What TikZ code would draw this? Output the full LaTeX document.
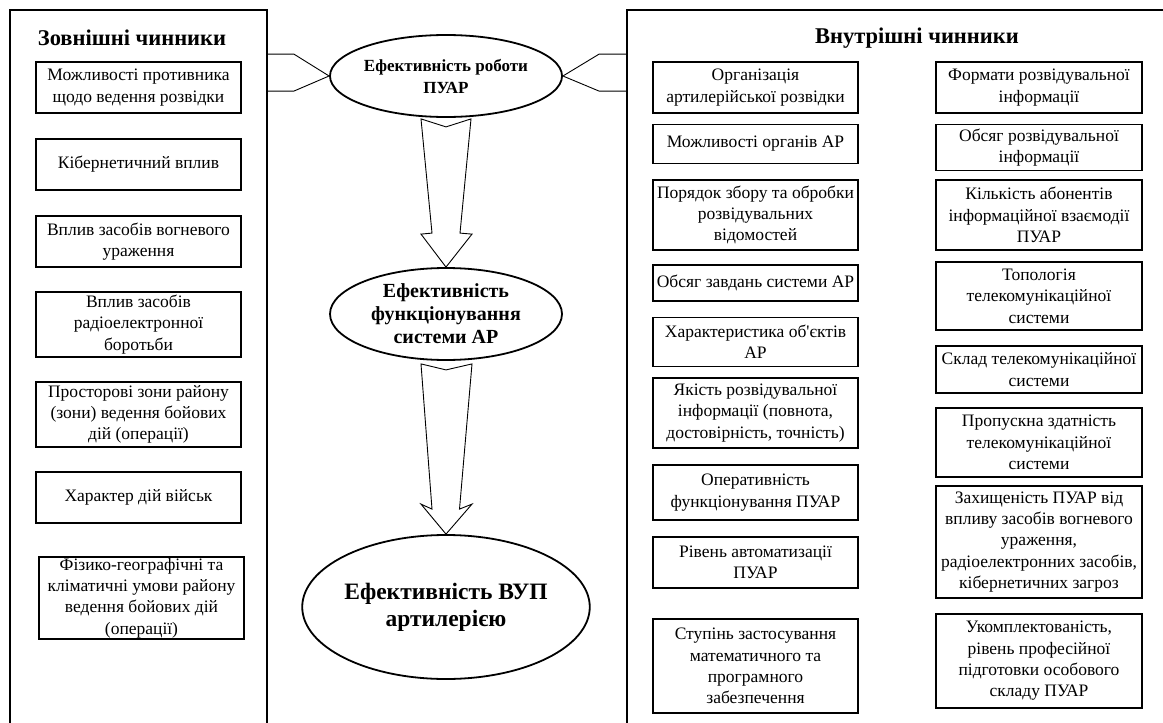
\documentclass[tikz,border=0pt]{standalone}
\usepackage{fontspec}
\setmainfont{Liberation Serif}
\newfontfamily\plainserif{Liberation Serif}
\usetikzlibrary{shapes.geometric,calc}
\tikzset{
  bigbox/.style={draw, line width=1.8pt, inner sep=0pt},
  fbox/.style={draw, line width=1.1pt, align=center, inner sep=0pt, font=\fontsize{17.5}{21.3}\selectfont},
  ell/.style={draw, ellipse, line width=1.8pt, inner sep=0pt, align=center},
  blockarrow/.style={draw, line width=0.9pt, fill=white, line join=miter},
  chev/.style={draw, line width=0.9pt},
  head/.style={font=\fontsize{22.5}{26}\selectfont\bfseries}
}
\begin{document}
\begin{tikzpicture}[x=1pt,y=-1pt]
\useasboundingbox (0,0) rectangle (1163,723);
\clip (0,0) rectangle (1163,723);
\fill[white] (0,0) rectangle (1163,723);

% big frames
\node[bigbox, minimum width=257, minimum height=760] (lbox) at (138.5,390) {};
\node[bigbox, minimum width=553, minimum height=760] (rbox) at (903.5,390) {};

\node[head] (lh) at (132,38) {Зовнішні чинники};
\node[head] (rh) at (917,38) {Внутрішні чинники};

% left column
\node[fbox, minimum width=205, minimum height=51] (l1) at (138.5,87.5) {Можливості противника\\щодо ведення розвідки};
\node[fbox, minimum width=205, minimum height=51] (l2) at (138.5,164.5) {Кібернетичний вплив};
\node[fbox, minimum width=205, minimum height=51] (l3) at (138.5,241.5) {Вплив засобів вогневого\\ураження};
\node[fbox, minimum width=205, minimum height=65] (l4) at (138.5,324.5) {Вплив засобів\\радіоелектронної\\боротьби};
\node[fbox, minimum width=205, minimum height=65] (l5) at (138.5,414.5) {Просторові зони району\\(зони) ведення бойових\\дій (операції)};
\node[fbox, minimum width=205, minimum height=51] (l6) at (138.5,497.5) {Характер дій військ};
\node[fbox, minimum width=205, minimum height=82] (l7) at (141.5,598) {Фізико-географічні та\\кліматичні умови району\\ведення бойових дій\\(операції)};

% column A
\node[fbox, minimum width=205, minimum height=51] (a1) at (755.5,87.5) {Організація\\артилерійської розвідки};
\node[fbox, minimum width=205, minimum height=39] (a2) at (755.5,144) {Можливості органів АР};
\node[fbox, minimum width=205, minimum height=70] (a3) at (755.5,215) {Порядок збору та обробки\\розвідувальних\\відомостей};
\node[fbox, minimum width=205, minimum height=36] (a4) at (755.5,283) {Обсяг завдань системи АР};
\node[fbox, minimum width=205, minimum height=49] (a5) at (755.5,342) {Характеристика об{\plainserif'}єктів\\АР};
\node[fbox, minimum width=205, minimum height=70] (a6) at (755.5,413) {Якість розвідувальної\\інформації (повнота,\\достовірність, точність)};
\node[fbox, minimum width=205, minimum height=55] (a7) at (755.5,492.5) {Оперативність\\функціонування ПУАР};
\node[fbox, minimum width=205, minimum height=51] (a8) at (755.5,562.5) {Рівень автоматизації\\ПУАР};
\node[fbox, minimum width=205, minimum height=94] (a9) at (755.5,666) {Ступінь застосування\\математичного та\\програмного\\забезпечення};

% column B
\node[fbox, minimum width=206, minimum height=51] (b1) at (1039,87.5) {Формати розвідувальної\\інформації};
\node[fbox, minimum width=206, minimum height=46] (b2) at (1039,147.5) {Обсяг розвідувальної\\інформації};
\node[fbox, minimum width=206, minimum height=70] (b3) at (1039,215) {Кількість абонентів\\інформаційної взаємодії\\ПУАР};
\node[fbox, minimum width=206, minimum height=68] (b4) at (1039,296) {Топологія\\телекомунікаційної\\системи};
\node[fbox, minimum width=206, minimum height=47] (b5) at (1039,369.5) {Склад телекомунікаційної\\системи};
\node[fbox, minimum width=206, minimum height=69] (b6) at (1039,442.5) {Пропускна здатність\\телекомунікаційної\\системи};
\node[fbox, minimum width=206, minimum height=112] (b7) at (1039,542) {Захищеність ПУАР від\\впливу засобів вогневого\\ураження,\\радіоелектронних засобів,\\кібернетичних загроз};
\node[fbox, minimum width=206, minimum height=94] (b8) at (1039,661) {Укомплектованість,\\рівень професійної\\підготовки особового\\складу ПУАР};

% ellipses
\node[ell, minimum width=206, minimum height=82, font=\fontsize{17}{22}\selectfont\bfseries] (e1) at (446,76) {Ефективність роботи\\ПУАР};
\node[ell, minimum width=232, minimum height=92, font=\fontsize{20}{23}\selectfont\bfseries] (e2) at (446,314) {Ефективність\\функціонування\\системи АР};
\node[ell, minimum width=282, minimum height=144, font=\fontsize{23.5}{27}\selectfont\bfseries] (e3) at (446,607) {Ефективність ВУП\\артилерією};

% chevron connectors
\draw[chev] ($(lbox.north east)+(0,45)$) -- ($(lbox.north east)+(26,45)$) -- (e1.west) -- ($(lbox.north east)+(26,82)$) -- ($(lbox.north east)+(0,82)$);
\draw[chev] ($(rbox.north west)+(0,45)$) -- ($(rbox.north west)+(-27,45)$) -- (e1.east) -- ($(rbox.north west)+(-27,82)$) -- ($(rbox.north west)+(0,82)$);

% block arrows
\draw[blockarrow] ($(e1.south)+(-25,1)$) -- ($(e1.south)+(0,9)$) -- ($(e1.south)+(25,1)$)
  -- ($(e2.north)+(14,-34)$) -- ($(e2.north)+(26,-33)$) -- (e2.north)
  -- ($(e2.north)+(-25,-33)$) -- ($(e2.north)+(-14,-34)$) -- cycle;
\draw[blockarrow] ($(e2.south)+(-25,3)$) -- ($(e2.south)+(0,9)$) -- ($(e2.south)+(26,3)$)
  -- ($(e3.north)+(13.5,-25)$) -- ($(e3.north)+(26,-30)$) -- (e3.north)
  -- ($(e3.north)+(-25,-30)$) -- ($(e3.north)+(-14,-25)$) -- cycle;
\end{tikzpicture}
\end{document}
